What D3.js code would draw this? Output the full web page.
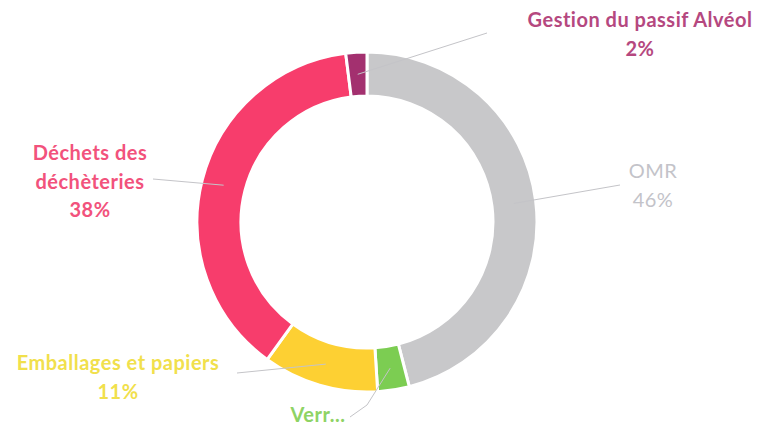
<!DOCTYPE html>
<html>
<head>
<meta charset="utf-8">
<script src="https://cdn.jsdelivr.net/npm/d3@7"></script>
<style>
  body { margin: 0; background: #fff; }
  svg text { font-family: Lato, "Open Sans", sans-serif; }
</style>
</head>
<body>
<div id="chart"></div>
<script>
// data, clockwise from 12 o'clock
var categories = ["OMR", "Verre", "Emballages et papiers", "Déchets des déchèteries", "Gestion du passif Alvéol"];
var values = [46, 3, 11, 38, 2];
var labelLines = [["OMR", "46%"], ["Verr..."], ["Emballages et papiers", "11%"], ["Déchets des", "déchèteries", "38%"], ["Gestion du passif Alvéol", "2%"]];
var colors = ["#c8c8ca", "#7ccd52", "#fdd033", "#f73d6c", "#a3306f"];
var labelColors = ["#c3c3c9", "#8ed364", "#f1e04c", "#f2527c", "#b5487f"];

// layout (label anchor, leader end points)
var width = 757, height = 426;
var cx = 367, cy = 222, outerR = 170, innerR = 126;
var labelPos = [[653, 178], [318, 422], [118, 370], [90, 160], [640, 27]];
var leaderPts = [[[620, 185]], [[367, 405], [350, 417]], [[237, 373]], [[153, 179]], [[487, 33]]];
var labelWeight = ["normal", "bold", "bold", "bold", "bold"];

var svg = d3.select("#chart").append("svg")
    .attr("width", width)
    .attr("height", height);

var g = svg.append("g")
    .attr("transform", "translate(" + cx + "," + cy + ")");

var data = categories.map(function(c, i) { return {name: c, value: values[i], i: i}; });

var pie = d3.pie().sort(null).value(function(d) { return d.value; });
var arc = d3.arc().innerRadius(innerR).outerRadius(outerR);
var arcs = pie(data);

g.selectAll("path.slice")
    .data(arcs)
  .enter().append("path")
    .attr("class", "slice")
    .attr("d", arc)
    .attr("fill", function(d) { return colors[d.data.i]; })
    .attr("stroke", "#fff")
    .attr("stroke-width", 3);

// leader lines
var line = d3.line();
svg.selectAll("path.leader")
    .data(arcs)
  .enter().append("path")
    .attr("class", "leader")
    .attr("d", function(d) {
      var c = arc.centroid(d);
      var pts = [[c[0] + cx, c[1] + cy]].concat(leaderPts[d.data.i]);
      return line(pts);
    })
    .attr("fill", "none")
    .attr("stroke", "#c4c4c8")
    .attr("stroke-width", 1);

// labels
var labels = svg.selectAll("text.label")
    .data(arcs)
  .enter().append("text")
    .attr("class", "label")
    .attr("x", function(d) { return labelPos[d.data.i][0]; })
    .attr("y", function(d) { return labelPos[d.data.i][1]; })
    .attr("text-anchor", "middle")
    .attr("font-size", 20)
    .attr("letter-spacing", 0.5)
    .attr("font-weight", function(d) { return labelWeight[d.data.i]; })
    .attr("fill", function(d) { return labelColors[d.data.i]; });

labels.selectAll("tspan")
    .data(function(d) { return labelLines[d.data.i].map(function(t) { return {t: t, x: labelPos[d.data.i][0]}; }); })
  .enter().append("tspan")
    .attr("x", function(d) { return d.x; })
    .attr("dy", function(d, j) { return j === 0 ? 0 : 28.5; })
    .text(function(d) { return d.t; });
</script>
</body>
</html>
